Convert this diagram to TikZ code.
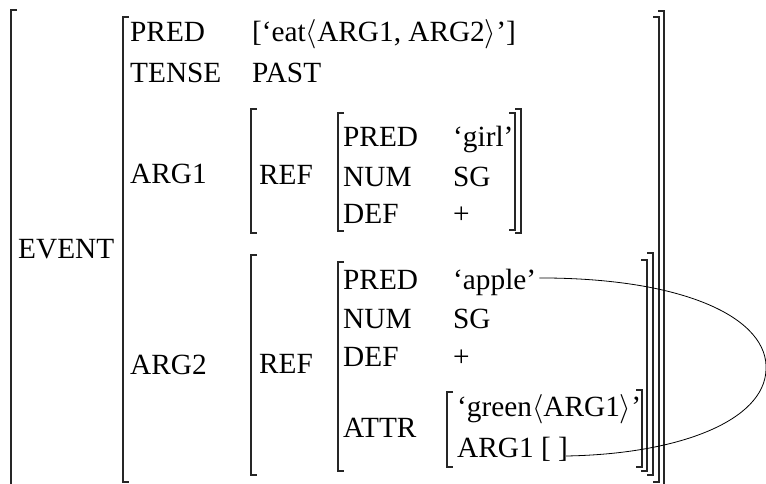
\documentclass[tikz,border=0pt]{standalone}
\usepackage{fix-cm}
\usepackage{fontspec}
\setmainfont{Liberation Serif}
\newcommand\leftbr[3]{\draw[brk] (#1+6,#2) -- (#1,#2) -- (#1,#3) -- (#1+6,#3);}
\newcommand\rightbr[3]{\draw[brk] (#1-6,#2) -- (#1,#2) -- (#1,#3) -- (#1-6,#3);}
\begin{document}
\begin{tikzpicture}[x=1pt,y=-1pt,
  txt/.style={anchor=base west,inner sep=0pt,font=\fontsize{29.3}{35}\selectfont},
  brk/.style={line width=1.6pt,black!85},
  link/.style={line width=0.8pt,black}]
\useasboundingbox (0,0) rectangle (766,484);
% text
\node[txt] (event) at (18,258) {EVENT};
\node[txt] (pred0) at (130,42) {PRED};
\node[txt] (predv0) at (252,42) {[‘eat$\langle$ARG1, ARG2$\rangle$’]};
\node[txt] (tense) at (130,83) {TENSE};
\node[txt] (past) at (252,83) {PAST};
\node[txt] (arg1) at (130,184) {ARG1};
\node[txt] (ref1) at (259,185) {REF};
\node[txt] (pred1) at (343,147) {PRED};
\node[txt] (girl) at (453,147) {‘girl’};
\node[txt] (num1) at (343,186) {NUM};
\node[txt] (sg1) at (453,186) {SG};
\node[txt] (def1) at (343,223) {DEF};
\node[txt] (plus1) at (453,223) {+};
\node[txt] (arg2) at (130,374) {ARG2};
\node[txt] (ref2) at (259,373) {REF};
\node[txt] (pred2) at (343,289) {PRED};
\node[txt] (apple) at (453,289) {‘apple’};
\node[txt] (num2) at (343,328) {NUM};
\node[txt] (sg2) at (453,328) {SG};
\node[txt] (def2) at (343,366) {DEF};
\node[txt] (plus2) at (453,366) {+};
\node[txt] (attr) at (343,437) {ATTR};
\node[txt] (green) at (457,416) {‘green$\langle$ARG1$\rangle$’};
\node[txt] (argone) at (457,457) {ARG1 [ ]};
% left brackets
\leftbr{11}{10}{500}
\leftbr{123}{17}{482}
\leftbr{251}{109}{233}
\leftbr{338}{113}{231}
\leftbr{251}{255}{475}
\leftbr{338}{262}{471}
\leftbr{447}{392}{467}
% right brackets
\rightbr{664}{11}{500}
\rightbr{659}{17}{482}
\rightbr{521}{109}{233}
\rightbr{515}{113}{230}
\rightbr{653}{253}{475}
\rightbr{647}{260}{471}
\rightbr{642}{390}{467}
% link
\coordinate (turn) at (766,370);
\draw[link] ([xshift=3pt,yshift=4pt]apple.east) .. controls +(150,0) and +(3,-50) .. (turn)
  .. controls +(-2,50) and +(115,-2) .. ([xshift=-2pt,yshift=1pt]argone.base east);
\end{tikzpicture}
\end{document}
